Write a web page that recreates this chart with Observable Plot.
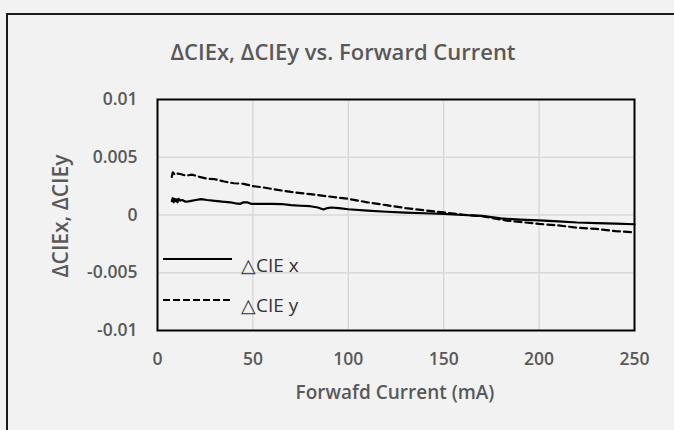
<!DOCTYPE html>
<html>
<head>
<meta charset="utf-8">
<script src="https://cdn.jsdelivr.net/npm/d3@7"></script>
<script src="https://cdn.jsdelivr.net/npm/@observablehq/plot@0.6"></script>
<style>
  html, body { margin: 0; padding: 0; background: #f2f2f2; }
  #wrap { position: relative; width: 674px; height: 430px; overflow: hidden; background: #f2f2f2; font-family: "Open Sans", sans-serif; }
  #border { position: absolute; left: 6px; top: 13px; width: 700px; height: 460px; border: 2px solid #1a1a1a; box-sizing: border-box; pointer-events: none; }
  #title { position: absolute; left: 0; width: 686px; top: 51px; transform: translateY(-50%); line-height: 1; text-align: center; font-size: 22px; font-weight: 600; color: #595959; white-space: nowrap; }
  #xlabel { position: absolute; left: 0; width: 790px; top: 392px; transform: translateY(-50%); line-height: 1; text-align: center; font-size: 19px; font-weight: 600; color: #595959; white-space: nowrap; }
  #ylabel { position: absolute; left: 60px; top: 216px; transform: translate(-50%, -50%) rotate(-90deg); line-height: 1; white-space: nowrap; font-size: 21px; font-weight: 600; color: #595959; }
  .legline { position: absolute; left: 163px; display: block; }
  .legtext { position: absolute; left: 241px; transform: translateY(-50%); font-size: 19px; color: #333; line-height: 1; white-space: nowrap; }
  svg.plot { position: absolute; left: 0; top: 0; }
</style>
</head>
<body>
<div id="wrap">
  <div id="chart"></div>
  <div id="title">ΔCIEx, ΔCIEy vs. Forward Current</div>
  <div id="xlabel">Forwafd Current (mA)</div>
  <div id="ylabel">ΔCIEx, ΔCIEy</div>
  <svg class="legline" style="top:249px" width="70" height="20"><line x1="0" x2="69" y1="10" y2="10" stroke="#000" stroke-width="2"/></svg>
  <div class="legtext" style="top:265px">△CIE x</div>
  <svg class="legline" style="top:290px" width="70" height="20"><line x1="0" x2="69" y1="10" y2="10" stroke="#000" stroke-width="2" stroke-dasharray="7,3"/></svg>
  <div class="legtext" style="top:305px">△CIE y</div>
  <div id="border"></div>
</div>
<script>
const xTicks = [0, 50, 100, 150, 200, 250];
const yTicks = [-0.01, -0.005, 0, 0.005, 0.01];
const yTickLabels = ["-0.01", "-0.005", "0", "0.005", "0.01"];

const cieXCurrent = [7.5, 8, 8.5, 9, 9.5, 10, 10.5, 11, 12, 13, 14, 15, 17, 20, 23, 26, 30, 34, 38, 41, 43.5, 45, 47, 49, 55, 60, 65, 70, 75, 80, 84, 87, 89, 91, 95, 100, 110, 120, 130, 140, 150, 160, 170, 180, 190, 200, 210, 220, 230, 240, 250];
const cieXValues = [0.0012, 0.00145, 0.0011, 0.0014, 0.0012, 0.00135, 0.0011, 0.0014, 0.00125, 0.0013, 0.0012, 0.00115, 0.0012, 0.0013, 0.00138, 0.0013, 0.00122, 0.00115, 0.0011, 0.001, 0.00097, 0.0011, 0.0011, 0.00097, 0.00097, 0.00097, 0.00095, 0.00085, 0.0008, 0.00076, 0.00065, 0.00048, 0.0006, 0.00065, 0.0006, 0.0005, 0.00038, 0.00028, 0.0002, 0.00015, 0.0001, 0.0, -0.00008, -0.0003, -0.0004, -0.00047, -0.00055, -0.00065, -0.0007, -0.00075, -0.0008];

const cieYCurrent = [7.5, 8, 9, 10, 12, 15, 18, 22, 26, 30, 35, 40, 45, 50, 55, 62, 70, 80, 90, 100, 110, 120, 130, 140, 150, 160, 170, 183, 190, 200, 210, 220, 230, 240, 250];
const cieYValues = [0.0033, 0.0037, 0.0035, 0.0036, 0.00355, 0.0034, 0.0035, 0.0033, 0.00315, 0.0031, 0.0029, 0.00275, 0.0027, 0.0025, 0.0024, 0.0022, 0.002, 0.0018, 0.0016, 0.0014, 0.0011, 0.00085, 0.0006, 0.0004, 0.00022, 0.00003, -0.0001, -0.00048, -0.0006, -0.00077, -0.0009, -0.0011, -0.0012, -0.0014, -0.0015];

const dataX = cieXCurrent.map((c, i) => ({c, v: cieXValues[i]}));
const dataY = cieYCurrent.map((c, i) => ({c, v: cieYValues[i]}));

const chart = Plot.plot({
  width: 674,
  height: 430,
  marginLeft: 157,
  marginRight: 40,
  marginTop: 99,
  marginBottom: 100,
  style: {background: "transparent", fontFamily: "Open Sans, sans-serif", fontSize: "17.5px", fontWeight: 600, color: "#595959"},
  x: {domain: [0, 250], ticks: xTicks, label: null},
  y: {domain: [-0.01, 0.01], ticks: yTicks, label: null},
  marks: [
    Plot.gridX(xTicks.slice(1, -1), {stroke: "#d9d9d9", strokeOpacity: 1, strokeWidth: 1.5}),
    Plot.gridY(yTicks.slice(1, -1), {stroke: "#d9d9d9", strokeOpacity: 1, strokeWidth: 1.5}),
    Plot.axisX({ticks: xTicks, tickSize: 0, tickPadding: 22, label: null, fill: "#595959"}),
    Plot.axisY({ticks: yTicks, tickSize: 0, tickPadding: 20, label: null, fill: "#595959",
      tickFormat: d => yTickLabels[yTicks.indexOf(d)]}),
    Plot.lineY(dataY, {x: "c", y: "v", stroke: "#000", strokeWidth: 2.2, strokeDasharray: "7,4"}),
    Plot.lineY(dataX, {x: "c", y: "v", stroke: "#000", strokeWidth: 2.2}),
    Plot.frame({stroke: "#000", strokeWidth: 2})
  ]
});
document.getElementById("chart").appendChild(chart);
</script>
</body>
</html>
